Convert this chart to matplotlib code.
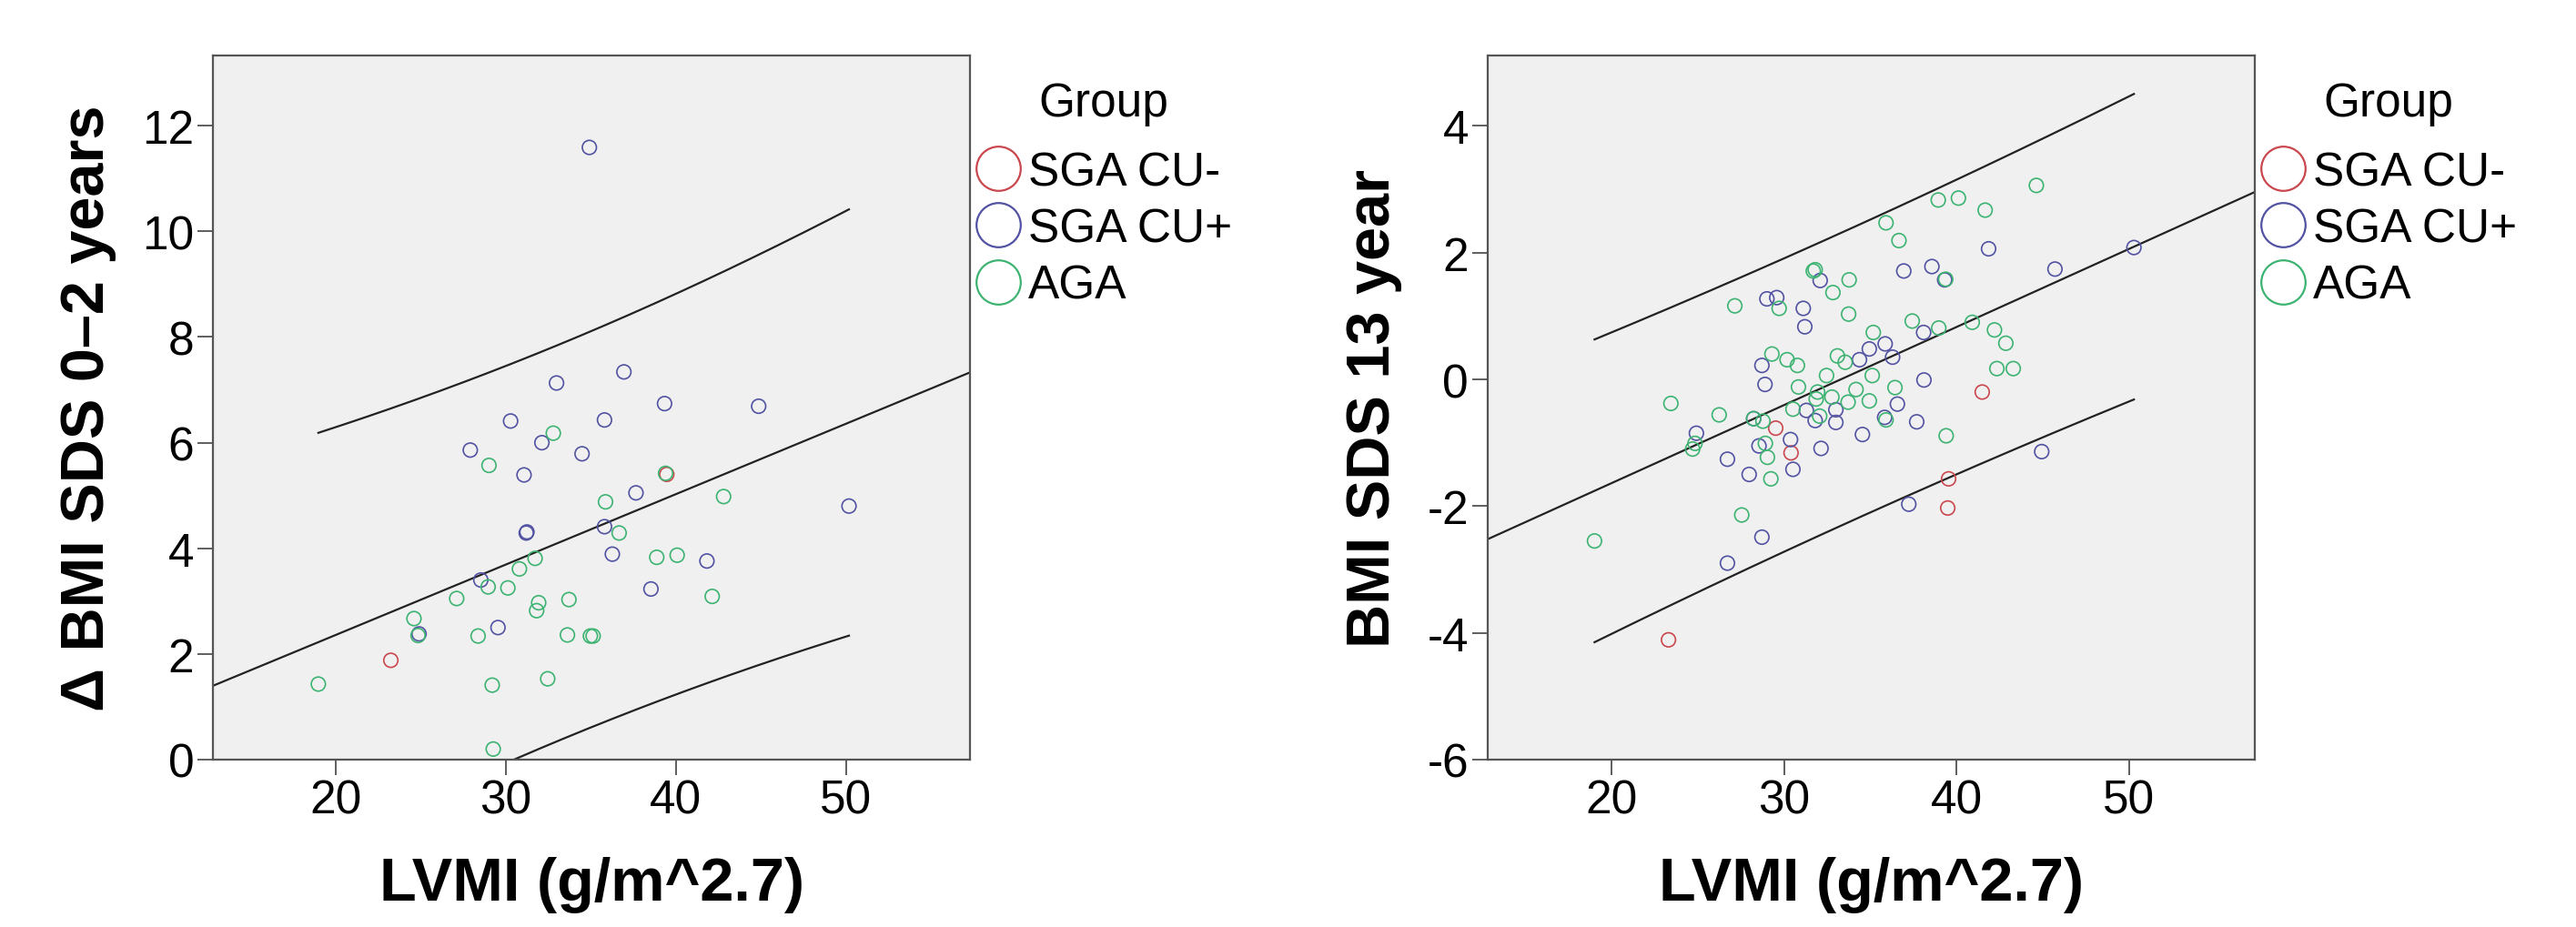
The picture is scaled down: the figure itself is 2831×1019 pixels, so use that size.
import matplotlib
matplotlib.use("Agg")
import matplotlib.pyplot as plt
from matplotlib.lines import Line2D
import numpy as np

plt.rcParams['font.family'] = ['Liberation Sans', 'DejaVu Sans']
plt.rcParams['axes.unicode_minus'] = False

groups = ["SGA CU-", "SGA CU+", "AGA"]
colors = ["#C9474D", "#5252A3", "#3DB372"]

# links: LVMI vs delta BMI SDS 0-2 jaar
l_red_x = [23.25, 39.47]
l_red_y = [1.88, 5.40]
l_blue_x = [34.92, 36.95, 32.99, 39.34, 44.87, 30.29, 35.81, 27.92, 32.13, 34.49, 31.08,
            37.66, 50.18, 31.21, 31.25, 35.81, 36.27, 41.83, 38.54, 28.54, 29.55, 24.91]
l_blue_y = [11.59, 7.34, 7.13, 6.74, 6.69, 6.41, 6.43, 5.86, 6.00, 5.79, 5.39,
            5.05, 4.80, 4.29, 4.31, 4.41, 3.89, 3.76, 3.23, 3.40, 2.50, 2.38]
l_green_x = [18.99, 24.61, 24.85, 27.12, 28.38, 28.97, 29.02, 29.21, 29.27, 30.13, 30.81,
             31.73, 31.94, 31.82, 32.47, 32.80, 33.72, 33.63, 34.98, 35.14, 35.87, 36.67,
             38.88, 40.08, 42.14, 42.81, 39.40]
l_green_y = [1.43, 2.67, 2.35, 3.05, 2.34, 3.27, 5.57, 1.41, 0.20, 3.25, 3.61,
             3.81, 2.97, 2.82, 1.53, 6.18, 3.03, 2.36, 2.34, 2.34, 4.88, 4.29,
             3.83, 3.87, 3.09, 4.98, 5.42]

# rechts: LVMI vs BMI SDS 13 jaar
r_red_x = [29.51, 30.40, 41.49, 39.54, 39.49, 23.29]
r_red_y = [-0.77, -1.16, -0.20, -1.57, -2.03, -4.11]
r_blue_x = [24.91, 26.71, 26.71, 27.97, 28.71, 28.23, 28.54, 28.71, 28.89, 29.00, 29.57,
            31.11, 31.20, 30.37, 30.51, 31.29, 31.80, 32.09, 32.14, 33.00, 33.00, 34.37,
            34.94, 35.86, 36.29, 36.57, 35.83, 34.54, 36.94, 37.23, 37.69, 38.11, 38.09,
            38.57, 39.31, 41.86, 44.94, 45.71, 50.29]
r_blue_y = [-0.85, -1.26, -2.90, -1.50, -2.49, -0.62, -1.05, 0.22, -0.08, 1.27, 1.29,
            1.12, 0.83, -0.95, -1.42, -0.49, -0.65, 1.56, -1.09, -0.48, -0.68, 0.31,
            0.48, 0.56, 0.35, -0.39, -0.60, -0.87, 1.71, -1.97, -0.67, -0.01, 0.74,
            1.78, 1.57, 2.06, -1.14, 1.74, 2.08]
r_green_x = [19.00, 23.43, 26.23, 24.69, 24.83, 27.14, 27.54, 29.29, 30.17, 30.77, 29.71,
             28.77, 28.91, 29.03, 29.23, 30.83, 30.51, 31.69, 31.80, 31.94, 31.86, 32.06,
             32.46, 32.83, 33.09, 33.54, 33.77, 33.74, 33.71, 32.77, 34.17, 35.17, 35.11,
             34.94, 35.91, 36.66, 36.43, 35.91, 37.43, 38.94, 40.11, 38.97, 39.37, 39.40,
             40.91, 41.66, 42.20, 42.86, 42.34, 43.29, 44.63, 28.23]
r_green_y = [-2.55, -0.38, -0.56, -1.10, -1.01, 1.16, -2.14, 0.40, 0.31, 0.22, 1.12,
             -0.66, -1.01, -1.23, -1.57, -0.12, -0.47, 1.71, 1.73, -0.20, -0.31, -0.58,
             0.06, 1.37, 0.37, 0.27, 1.57, 1.03, -0.36, -0.28, -0.16, 0.74, 0.06,
             -0.34, 2.47, 2.19, -0.13, -0.64, 0.92, 2.83, 2.86, 0.81, 1.58, -0.89,
             0.90, 2.67, 0.78, 0.57, 0.17, 0.17, 3.06, -0.62]

xticks = [20, 30, 40, 50]
xlim = (12.8, 57.3)
left_ylim = (0, 13.33)
left_yticks = [0, 2, 4, 6, 8, 10, 12]
right_ylim = (-6, 5.11)
right_yticks = [-6, -4, -2, 0, 2, 4]


def draw_panel(ax, xs, ys, ylim, yticks, ylabel, t_val):
    ax.set_facecolor("#F0F0F0")
    for x, y, c in zip(xs, ys, colors):
        ax.scatter(x, y, s=125, facecolors="none", edgecolors=c, linewidths=1.2, zorder=3)

    # lineaire fit + 95% voorspellingsinterval
    allx = np.concatenate([np.array(v) for v in xs])
    ally = np.concatenate([np.array(v) for v in ys])
    n = len(allx)
    b, a = np.polyfit(allx, ally, 1)
    res = ally - (a + b * allx)
    s = np.sqrt(np.sum(res ** 2) / (n - 2))
    xbar = allx.mean()
    sxx = np.sum((allx - xbar) ** 2)

    xf = np.linspace(xlim[0], xlim[1], 200)
    ax.plot(xf, a + b * xf, color="#222222", lw=1.6, zorder=2)
    xb = np.linspace(allx.min(), allx.max(), 200)
    half = t_val * s * np.sqrt(1 + 1 / n + (xb - xbar) ** 2 / sxx)
    ax.plot(xb, a + b * xb + half, color="#222222", lw=1.6, zorder=2)
    ax.plot(xb, a + b * xb - half, color="#222222", lw=1.6, zorder=2)

    ax.set_xlim(*xlim)
    ax.set_ylim(*ylim)
    ax.set_xticks(xticks)
    ax.set_yticks(yticks)
    ax.tick_params(direction="out", length=12, width=1.1, colors="#333333",
                   labelsize=37, labelcolor="black", pad=3)
    for sp in ax.spines.values():
        sp.set_color("#555555")
        sp.set_linewidth(1.6)
    ax.set_xlabel("LVMI (g/m^2.7)", fontsize=48, fontweight="bold", labelpad=26)
    ax.set_ylabel(ylabel, fontsize=48, fontweight="bold", labelpad=20)

    handles = [Line2D([], [], marker="o", ls="none", markersize=35, mfc="none",
                      mec=c, mew=1.6) for c in colors]
    leg = ax.legend(handles, groups, title="Group", loc="upper left",
                    bbox_to_anchor=(1.0, 0.971), frameon=False, borderaxespad=0,
                    borderpad=0.1, handlelength=1.0, handletextpad=0.15,
                    labelspacing=0.255, fontsize=37, title_fontsize=37)
    leg._legend_box.sep = 20


fig = plt.figure(figsize=(28.31, 10.2), dpi=100)
ax1 = fig.add_axes([0.0827, 0.1804, 0.2939, 0.7588])
ax2 = fig.add_axes([0.5775, 0.1804, 0.2978, 0.7588])

draw_panel(ax1, [l_red_x, l_blue_x, l_green_x], [l_red_y, l_blue_y, l_green_y],
           left_ylim, left_yticks, "\u0394 BMI SDS 0\u20132 years", 2.01)
draw_panel(ax2, [r_red_x, r_blue_x, r_green_x], [r_red_y, r_blue_y, r_green_y],
           right_ylim, right_yticks, "BMI SDS 13 year", 1.985)

fig.savefig("out.png", dpi=100)
